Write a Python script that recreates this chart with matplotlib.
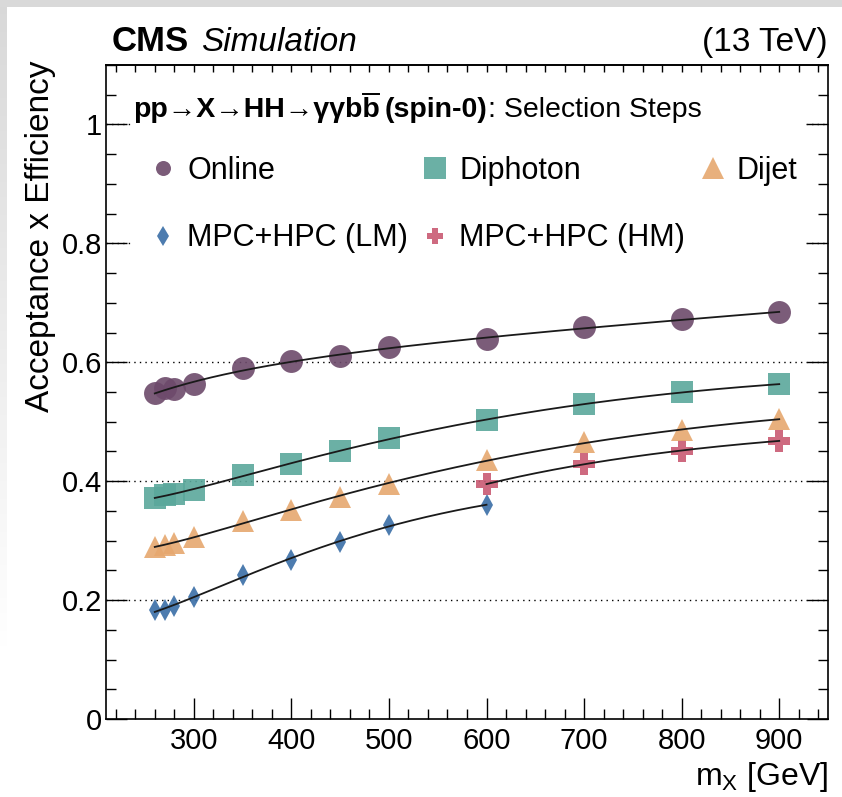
import numpy as np
import matplotlib
matplotlib.use("Agg")
import matplotlib.pyplot as plt
from matplotlib.ticker import MultipleLocator, FuncFormatter
from matplotlib.patches import Rectangle
from matplotlib.lines import Line2D

plt.rcParams["font.family"] = ["Liberation Sans", "DejaVu Sans"]
plt.rcParams["mathtext.fontset"] = "custom"
plt.rcParams["mathtext.rm"] = "Liberation Sans"
plt.rcParams["mathtext.it"] = "Liberation Sans:italic"
plt.rcParams["mathtext.bf"] = "Liberation Sans:bold"

# Resonance masses (GeV) and acceptance x efficiency after each selection step
mass = [260, 270, 280, 300, 350, 400, 450, 500, 600, 700, 800, 900]
online = [0.548, 0.556, 0.555, 0.564, 0.590, 0.602, 0.610, 0.625, 0.639, 0.659, 0.672, 0.684]
diphoton = [0.372, 0.376, 0.378, 0.386, 0.410, 0.429, 0.451, 0.472, 0.503, 0.529, 0.550, 0.563]
dijet = [0.290, 0.292, 0.296, 0.306, 0.333, 0.351, 0.374, 0.396, 0.435, 0.466, 0.486, 0.504]
mass_lm = [260, 270, 280, 300, 350, 400, 450, 500, 600]
mpc_hpc_lm = [0.183, 0.183, 0.190, 0.206, 0.242, 0.268, 0.298, 0.326, 0.360]
mass_hm = [600, 700, 800, 900]
mpc_hpc_hm = [0.395, 0.429, 0.451, 0.468]

labels = ["Online", "MPC+HPC (LM)", "Diphoton", "MPC+HPC (HM)", "Dijet"]
y_ticks = [0, 0.2, 0.4, 0.6, 0.8, 1.0]
x_ticks = [300, 400, 500, 600, 700, 800, 900]

W, H = 842, 797
fig = plt.figure(figsize=(W / 100, H / 100), dpi=100)
fig.patch.set_facecolor("white")

# light frame on the top and left edges
fig.patches.append(Rectangle((0, 1 - 7 / H), 1, 7 / H, transform=fig.transFigure,
                             facecolor="#d9d9d9", edgecolor="none", zorder=0))
grad_ax = fig.add_axes([0, 1 - 650 / H, 7 / W, 650 / H])
grad = np.linspace(1, 0, 256).reshape(-1, 1)
rgba = np.zeros((256, 1, 4))
rgba[..., :3] = 0.85
rgba[..., 3] = grad
grad_ax.imshow(rgba, aspect="auto", extent=(0, 1, 0, 1))
grad_ax.set_axis_off()

AX_L, AX_R, AX_T, AX_B = 106, 828, 65, 719
AW, AH = AX_R - AX_L, AX_B - AX_T
ax = fig.add_axes([AX_L / W, 1 - AX_B / H, AW / W, AH / H])
ax.set_xlim(210, 950)
ax.set_ylim(0, 1.1)

series = [
    (mass, online, "o", "#6d4a6b", 16.5, 10.8, 3),
    (mass_lm, mpc_hpc_lm, "d", "#3a6ea6", 11.0, 10.0, 3),
    (mass, diphoton, "s", "#5ba89b", 16.5, 15.5, 3),
    (mass_hm, mpc_hpc_hm, "P", "#c95a72", 16.5, 11.0, 2),
    (mass, dijet, "^", "#e6a86f", 16.5, 15.5, 3),
]

handles = []
for (x, y, mk, col, ms, _, deg), lab in zip(series, labels):
    h, = ax.plot(x, y, linestyle="none", marker=mk, ms=ms, color=col,
                 markeredgewidth=0, alpha=0.9, zorder=3, label=lab)
    handles.append(h)
    # smooth trend through the points (polynomial in log m)
    lx = np.log(np.asarray(x, dtype=float))
    coef = np.polyfit(lx, y, deg)
    xs = np.linspace(min(x), max(x), 200)
    ax.plot(xs, np.polyval(coef, np.log(xs)), color="#1a1a1a", lw=1.3, zorder=4)

# dotted horizontal grid
for yv in y_ticks[1:]:
    ax.axhline(yv, color="black", lw=1.0, ls=(0, (1, 3)), zorder=0.8)

# white panel behind header and legend
ax.add_patch(Rectangle((0.035, (AX_B - 262) / AH), 0.93, (262 - 90) / AH,
                       transform=ax.transAxes, facecolor="white", edgecolor="none",
                       zorder=1.0))

leg = ax.legend(handles, labels, ncol=3, loc="upper left",
                bbox_to_anchor=((151 - AX_L) / AW, (AX_B - 156) / AH),
                frameon=False, fontsize=22, handlelength=0.8, handletextpad=0.38,
                columnspacing=0.5, labelspacing=1.22, borderpad=0, borderaxespad=0)
leg.set_zorder(5)
for lh, s in zip(leg.legend_handles, series):
    lh.set_markersize(s[5])
    lh.set_alpha(0.9)

# axes styling
for sp in ax.spines.values():
    sp.set_linewidth(1.2)
ax.set_xticks(x_ticks)
ax.xaxis.set_minor_locator(MultipleLocator(20))
ax.set_yticks(y_ticks)
ax.yaxis.set_minor_locator(MultipleLocator(0.05))
ax.yaxis.set_major_formatter(FuncFormatter(lambda v, p: f"{v:g}"))
ax.tick_params(axis="both", which="both", direction="in", width=1.0, labelsize=21)
ax.tick_params(axis="x", which="major", length=15, pad=6, top=False)
ax.tick_params(axis="x", which="minor", length=7, top=False)
ax.tick_params(axis="y", which="major", length=15, pad=3, right=True)
ax.tick_params(axis="y", which="minor", length=7, right=True)

top = ax.secondary_xaxis("top")
top.set_xticks(x_ticks)
top.xaxis.set_minor_locator(MultipleLocator(20))
top.tick_params(axis="x", which="both", direction="in", length=5, width=1.0,
                labeltop=False)
top.spines["top"].set_linewidth(1.2)

ax.set_xlabel(r"m$_{\mathrm{X}}$ [GeV]", fontsize=23, loc="right")
ax.xaxis.set_label_coords(1.0, -(760 - AX_B) / AH)
ax.set_ylabel("Acceptance x Efficiency", fontsize=24, loc="top")
ax.yaxis.set_label_coords(-(AX_L - 56) / AW, (AX_B - 60) / AH)

# header texts
fig.text(112 / W, 1 - 51 / H, "CMS", fontsize=25, fontweight="bold", va="baseline")
fig.text(201 / W, 1 - 51 / H, "Simulation", fontsize=24, fontstyle="italic", va="baseline")
fig.text(828 / W, 1 - 51 / H, "(13 TeV)", fontsize=24, ha="right", va="baseline")

# process label with b-bar
FS = 20.5
renderer = fig.canvas.get_renderer()
x0, base = 133 / W, 1 - 117 / H
proc = "pp\u2192X\u2192HH\u2192\u03b3\u03b3bb"
t_full = fig.text(x0, base, proc, fontsize=FS, fontweight="bold", va="baseline")
t_part = fig.text(x0, base, proc[:-1], fontsize=FS, fontweight="bold", va="baseline", alpha=0)
e_full = t_full.get_window_extent(renderer)
e_part = t_part.get_window_extent(renderer)
bx0 = e_part.x1 / W
bx1 = e_full.x1 / W
ov_y = base + (FS * 100 / 72) * 0.80 / H
fig.add_artist(Line2D([bx0 + 1 / W, bx1 - 1 / W], [ov_y, ov_y], color="black",
                      lw=1.4, transform=fig.transFigure))
t2 = fig.text(bx1 + 5 / W, base, "(spin-0)", fontsize=FS, fontweight="bold", va="baseline")
e2 = t2.get_window_extent(renderer)
fig.text(e2.x1 / W, base, ": Selection Steps", fontsize=FS, va="baseline")

fig.savefig("out.png", dpi=100, facecolor=fig.get_facecolor())
